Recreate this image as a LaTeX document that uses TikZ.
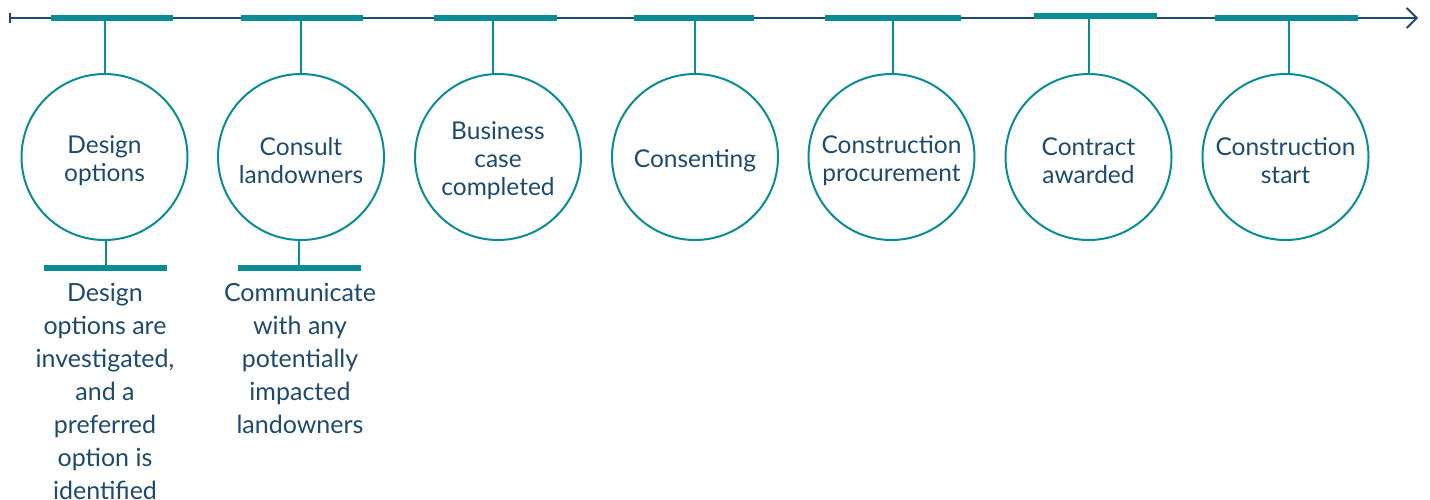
\documentclass[tikz,border=0pt]{standalone}
\usepackage{fontspec}
\setmainfont{Lato}
\usetikzlibrary{arrows.meta}
\definecolor{teal1}{HTML}{0A8C94}
\definecolor{navy1}{HTML}{1E4A6D}
\tikzset{
  axis/.style={draw=navy1, line width=1.6pt, {Bar[width=10pt]}-{Straight Barb[length=10pt,width=20pt,line width=1.8pt]}},
  tbar/.style={draw=teal1, line width=6pt},
  stem/.style={draw=teal1, line width=1.8pt},
  stage/.style={circle, draw=teal1, line width=2pt, minimum size=166pt, inner sep=0pt},
  stagetext/.style={align=center, text=navy1, inner sep=0pt, font=\fontsize{24.5}{28}\selectfont},
  desc/.style={anchor=north, align=center, text=navy1, inner sep=0pt, font=\fontsize{25}{33}\selectfont},
}
\begin{document}
\begin{tikzpicture}[x=1pt,y=-1pt]
\useasboundingbox (0,0) rectangle (1430,499);
\coordinate (s) at (9,18);
\coordinate (e) at (1418,18);
\draw[axis] (s) -- (e);
% top bars
\foreach \i/\a/\b/\y in {1/51/173/18, 2/241/363/18, 3/434/557/18, 4/634/754/18, 5/825/961/18, 6/1034/1157/16, 7/1215/1358/18}{
  \coordinate (ba\i) at (\a,\y);
  \coordinate (bb\i) at (\b,\y);
  \draw[tbar] (ba\i) -- (bb\i);
}
\coordinate (t1) at (105,18);
\coordinate (t2) at (301,18);
\coordinate (t3) at (493,18);
\coordinate (t4) at (695,18);
\coordinate (t5) at (893,18);
\coordinate (t6) at (1089,16);
\coordinate (t7) at (1289,18);
\node[stage] (c1) at (104.5,157) {};
\node[stage] (c2) at (301,157) {};
\node[stage] (c3) at (498,157) {};
\node[stage] (c4) at (695,157) {};
\node[stage] (c5) at (891.5,157) {};
\node[stage] (c6) at (1088.5,157) {};
\node[stage] (c7) at (1285.5,157) {};
\node[stagetext] (l1) at ([yshift=-4pt]c1.center) {Design\\options};
\node[stagetext] (l2) at ([yshift=-4pt]c2.center) {Consult\\landowners};
\node[stagetext] (l3) at ([yshift=-4pt]c3.center) {Business\\case\\completed};
\node[stagetext] (l4) at ([yshift=-4pt]c4.center) {Consenting};
\node[stagetext] (l5) at ([yshift=-4pt]c5.center) {Construction\\procurement};
\node[stagetext] (l6) at ([yshift=-4pt]c6.center) {Contract\\awarded};
\node[stagetext] (l7) at ([yshift=-4pt]c7.center) {Construction\\start};
\foreach \i in {1,...,7}{
  \draw[stem] (t\i) -- (c\i.north -| t\i);
}
% bottom bars
\coordinate (ua1) at (44,268);
\coordinate (ub1) at (167,268);
\coordinate (ua2) at (238,268);
\coordinate (ub2) at (361,268);
\draw[tbar] (ua1) -- (ub1);
\draw[tbar] (ua2) -- (ub2);
\coordinate (u1) at (106,268);
\coordinate (u2) at (299,268);
\draw[stem] (c1.south -| u1) -- (u1);
\draw[stem] (c2.south -| u2) -- (u2);
\node[desc] (d1) at (105,283) {Design\\options are\\investigated,\\and a\\preferred\\option is\\identified};
\node[desc] (d2) at (300,283) {Communicate\\with any\\potentially\\impacted\\landowners};
\end{tikzpicture}
\end{document}
